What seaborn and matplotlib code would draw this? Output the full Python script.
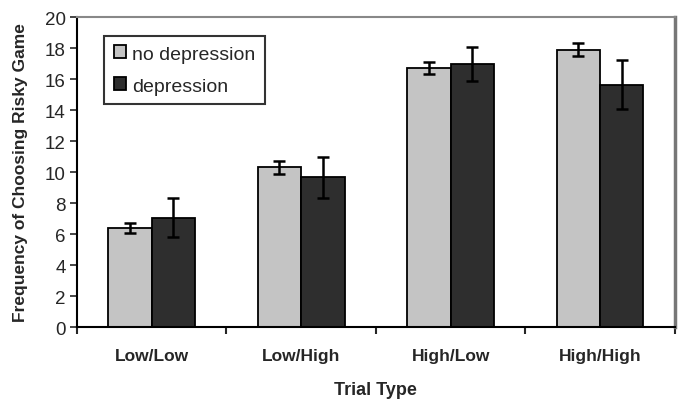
import pandas as pd
import numpy as np
import matplotlib.pyplot as plt
import seaborn as sns

# values
trial_types = ["Low/Low", "Low/High", "High/Low", "High/High"]
groups = ["no depression", "depression"]
no_dep_mean = [6.4, 10.3, 16.7, 17.9]
no_dep_err = [0.33, 0.42, 0.38, 0.4]
dep_mean = [7.05, 9.65, 16.95, 15.65]
dep_err = [1.25, 1.35, 1.1, 1.55]

df = pd.DataFrame({
    "trial": trial_types * 2,
    "group": [groups[0]] * 4 + [groups[1]] * 4,
    "freq": no_dep_mean + dep_mean,
    "err": no_dep_err + dep_err,
})

sns.set_style("white")
plt.rcParams["font.family"] = ["Liberation Sans", "DejaVu Sans"]

fig = plt.figure(figsize=(6.81, 4.02), dpi=100)
ax = fig.add_axes([0.113, 0.184, 0.878, 0.771])

sns.barplot(data=df, x="trial", y="freq", hue="group", order=trial_types,
            hue_order=groups, palette=["#c4c4c4", "#2e2e2e"], width=0.58,
            edgecolor="black", linewidth=1.3, errorbar=None, ax=ax)

# error bars on each bar, matched by hue/category order
bars = ax.patches[:8]
for bar, (_, row) in zip(bars, df.iterrows()):
    cx = bar.get_x() + bar.get_width() / 2
    ax.errorbar(cx, row["freq"], yerr=row["err"], color="black",
                capsize=4, elinewidth=1.8, capthick=1.8)

ax.set_ylim(0, 20)
ax.set_xlim(-0.5, 3.5)
ax.set_yticks(range(0, 21, 2))
ax.tick_params(axis="y", labelsize=13.5, length=5, width=1.2, direction="out",
               left=True, pad=3)
ax.set_xticks(np.arange(-0.5, 4, 1), minor=True)
ax.tick_params(axis="x", which="major", length=0, labelsize=12.5, pad=15)
ax.tick_params(axis="x", which="minor", length=5, width=1.5, direction="out", bottom=True)
for lab in ax.get_xticklabels():
    lab.set_fontweight("bold")

ax.set_xlabel("Trial Type", fontsize=13, fontweight="bold", labelpad=13)
ax.set_ylabel("Frequency of Choosing Risky Game", fontsize=12.5, fontweight="bold",
              labelpad=12)

for side in ["left", "bottom"]:
    ax.spines[side].set_color("black")
    ax.spines[side].set_linewidth(1.5)
ax.spines["top"].set_color("#888888")
ax.spines["top"].set_linewidth(1.5)
ax.spines["right"].set_color("#777777")
ax.spines["right"].set_linewidth(2.5)

leg = ax.legend(loc="upper left", bbox_to_anchor=(0.045, 0.94), fontsize=14,
                frameon=True, fancybox=False, edgecolor="black",
                handlelength=0.65, handleheight=0.65, handletextpad=0.3,
                borderpad=0.5, labelspacing=0.75, borderaxespad=0)
leg.get_frame().set_linewidth(1.5)
for h in leg.legend_handles:
    h.set_edgecolor("black")
    h.set_linewidth(1.3)

fig.savefig("out.png", dpi=100)
